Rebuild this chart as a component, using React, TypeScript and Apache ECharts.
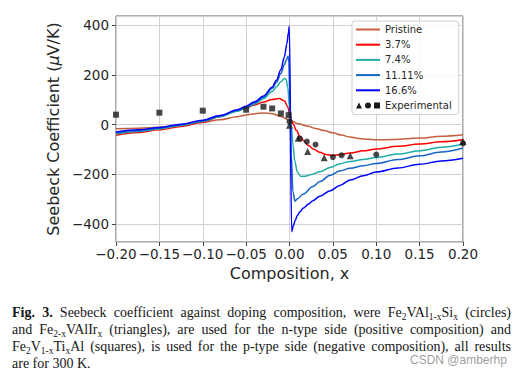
import React, { useEffect, useRef } from 'react';
import * as echarts from 'echarts';

// ---------------- data (composition x, Seebeck µV/K) ----------------
const seriesNames = ['Pristine', '3.7%', '7.4%', '11.11%', '16.6%'];
const seriesColors = ['#c4603f', '#ff0000', '#1fada7', '#1765c4', '#0000ff'];

const pristine: [number, number][] = [
  [-0.2, -16], [-0.175, -14], [-0.15, -10], [-0.125, -2], [-0.1, 9], [-0.08, 20], [-0.06, 32],
  [-0.05, 39], [-0.04, 44], [-0.03, 47], [-0.02, 44], [-0.01, 33], [0, 18], [0.01, 4], [0.02, -5],
  [0.03, -15], [0.04, -24], [0.05, -33], [0.06, -42], [0.07, -50], [0.08, -56], [0.09, -59],
  [0.1, -61], [0.12, -60], [0.15, -54], [0.175, -47], [0.2, -41],
];
const doped37: [number, number][] = [
  [-0.2, -43], [-0.175, -32], [-0.15, -21], [-0.125, -7], [-0.1, 10], [-0.08, 33], [-0.06, 57],
  [-0.05, 67], [-0.04, 79], [-0.03, 91], [-0.02, 101], [-0.012, 105], [-0.006, 96], [-0.002, 72],
  [0.0006, 33], [0.004, 4], [0.008, -23], [0.012, -47], [0.016, -64], [0.022, -84], [0.028, -99],
  [0.035, -111], [0.042, -120], [0.05, -124], [0.058, -120], [0.07, -114], [0.085, -105],
  [0.1, -98], [0.125, -87], [0.15, -78], [0.175, -69], [0.2, -61],
];
const doped74: [number, number][] = [
  [-0.2, -38], [-0.175, -28], [-0.15, -17], [-0.125, -3], [-0.1, 13], [-0.08, 32], [-0.06, 54],
  [-0.05, 67], [-0.04, 83], [-0.03, 104], [-0.02, 133], [-0.015, 152], [-0.01, 172], [-0.006, 185],
  [-0.004, 182], [-0.002, 150], [0, 70], [0.002, 0], [0.004, -80], [0.006, -145], [0.009, -190],
  [0.013, -208], [0.018, -207], [0.025, -200], [0.035, -189], [0.047, -172], [0.058, -157],
  [0.07, -148], [0.085, -140], [0.1, -132], [0.125, -118], [0.15, -105], [0.175, -91], [0.2, -78],
];
const doped1111: [number, number][] = [
  [-0.2, -34], [-0.175, -25], [-0.15, -14], [-0.125, 0], [-0.1, 15], [-0.08, 34], [-0.06, 57],
  [-0.05, 70], [-0.04, 87], [-0.03, 110], [-0.02, 145], [-0.015, 170], [-0.01, 205], [-0.006, 240],
  [-0.003, 265], [-0.0017, 275], [-0.0008, 250], [0.0005, 100], [0.002, -120], [0.004, -270],
  [0.0063, -307], [0.009, -298], [0.016, -278], [0.027, -248], [0.035, -228], [0.047, -203],
  [0.058, -186], [0.07, -175], [0.085, -165], [0.1, -156], [0.125, -140], [0.15, -125],
  [0.175, -110], [0.2, -94],
];
const doped166: [number, number][] = [
  [-0.2, -30], [-0.175, -21], [-0.15, -11], [-0.125, 2], [-0.1, 18], [-0.08, 37], [-0.06, 60],
  [-0.05, 74], [-0.04, 92], [-0.03, 115], [-0.02, 150], [-0.015, 178], [-0.01, 220], [-0.006, 270],
  [-0.003, 325], [-0.0012, 370], [-0.0002, 395], [0.0025, -430], [0.0045, -405], [0.0063, -387],
  [0.009, -365], [0.012, -350], [0.016, -335], [0.022, -318], [0.027, -305], [0.035, -287],
  [0.047, -265], [0.058, -244], [0.07, -222], [0.085, -205], [0.1, -190], [0.125, -174],
  [0.15, -159], [0.175, -146], [0.2, -135],
];

// experimental points
const expSquares: [number, number][] = [
  [-0.2, 40], [-0.15, 48], [-0.1, 56], [-0.05, 60], [-0.03, 72], [-0.02, 65], [-0.01, 45], [-0.001, 38],
];
const expCircles: [number, number][] = [
  [0, 12], [0.012, -56], [0.02, -68], [0.03, -80], [0.05, -130], [0.06, -123], [0.1, -120], [0.2, -75],
];
const expTriangles: [number, number][] = [
  [0, -2], [0.01, -55], [0.021, -108], [0.04, -133], [0.07, -125], [0.2, -68],
];

const xMin = -0.2;
const xMax = 0.2;
const xStep = 0.05;
const yMin = -471;
const yMax = 436;

const captionLines: string[] = [
  '*Fig.* *3.* Seebeck coefficient against doping composition, were Fe_{2}VAl_{1-x}Si_{x} (circles)',
  'and Fe_{2-x}VAlIr_{x} (triangles), are used for the n-type side (positive composition) and',
  'Fe_{2}V_{1-x}Ti_{x}Al (squares), is used for the p-type side (negative composition), all results',
  'are for 300 K.',
];
const watermark = 'CSDN @amberhp';

// ---------------- caption helpers ----------------
type Seg = { t: string; sub: boolean; bold: boolean };
function parseWord(word: string): Seg[] {
  let w = word;
  let bold = false;
  if (w.length > 1 && w.startsWith('*') && w.endsWith('*')) {
    bold = true;
    w = w.slice(1, -1);
  }
  const segs: Seg[] = [];
  const re = /_\{([^}]*)\}/g;
  let last = 0;
  let m: RegExpExecArray | null;
  while ((m = re.exec(w))) {
    if (m.index > last) segs.push({ t: w.slice(last, m.index), sub: false, bold });
    segs.push({ t: m[1], sub: true, bold });
    last = m.index + m[0].length;
  }
  if (last < w.length) segs.push({ t: w.slice(last), sub: false, bold });
  return segs;
}

const CAP_FAMILY = 'Liberation Serif';
const CAP_SIZE = 14;
const SUB_SIZE = 9.5;
const CAP_LEFT = 12;
const CAP_WIDTH = 499;
const CAP_BASE = 317;
const CAP_STEP = 17;

function buildCaption(): any[] {
  const canvas = document.createElement('canvas');
  const ctx = canvas.getContext('2d')!;
  const measure = (s: Seg) => {
    const size = s.sub ? SUB_SIZE : CAP_SIZE;
    ctx.font = `${s.bold ? 'bold ' : ''}${size}px "${CAP_FAMILY}"`;
    return ctx.measureText(s.t).width;
  };
  ctx.font = `${CAP_SIZE}px "${CAP_FAMILY}"`;
  const spaceW = ctx.measureText(' ').width;
  const els: any[] = [];
  captionLines.forEach((line, li) => {
    const words = line.split(' ').map(parseWord);
    const widths = words.map((ws) => ws.reduce((a, s) => a + measure(s), 0));
    const total = widths.reduce((a, b) => a + b, 0);
    const justify = li < captionLines.length - 1 && words.length > 1;
    const gap = justify ? Math.max(1.5, (CAP_WIDTH - total) / (words.length - 1)) : spaceW;
    const baseline = CAP_BASE + li * CAP_STEP;
    let x = CAP_LEFT;
    words.forEach((ws, wi) => {
      ws.forEach((s) => {
        const size = s.sub ? SUB_SIZE : CAP_SIZE;
        const bl = s.sub ? baseline + 3 : baseline;
        els.push({
          type: 'text',
          silent: true,
          x,
          y: bl - 0.3375 * size,
          style: {
            text: s.t,
            fontFamily: CAP_FAMILY,
            fontSize: size,
            fontWeight: s.bold ? 'bold' : 'normal',
            fill: '#161616',
            align: 'left',
            verticalAlign: 'middle',
          },
        });
        x += measure(s);
      });
      if (wi < words.length - 1) x += gap;
    });
  });
  els.push({
    type: 'text',
    silent: true,
    x: 410,
    y: 364 - 0.35 * 12,
    style: {
      text: watermark,
      fontFamily: 'Liberation Sans',
      fontSize: 12,
      fill: 'rgba(140,140,140,0.85)',
      align: 'left',
      verticalAlign: 'middle',
    },
  });
  return els;
}

const expIcon =
  'path://M0,6L6,6L3,0Z M15,3A3,3,0,1,1,9,3A3,3,0,1,1,15,3Z M18,0L24,0L24,6L18,6Z';

const fmtX = (v: number) => {
  if (Math.abs(v) < 1e-9) return '0.00';
  return (v < 0 ? '\u2212' : '') + Math.abs(v).toFixed(2);
};
const fmtY = (v: number) => (v < 0 ? '\u2212' + Math.abs(v) : String(v));

export default function App() {
  const ref = useRef<HTMLDivElement>(null);
  useEffect(() => {
    if (!ref.current) return;
    const chart = echarts.init(ref.current, undefined, { renderer: 'svg' });
    const lineData = [pristine, doped37, doped74, doped1111, doped166];
    const textColor = '#262626';
    const option: any = {
      animation: false,
      backgroundColor: '#ffffff',
      textStyle: { fontFamily: 'DejaVu Sans' },
      grid: {
        left: 116,
        right: 61,
        top: 16,
        bottom: 134,
        show: true,
        borderColor: '#5a5a5a',
        borderWidth: 1,
        backgroundColor: 'transparent',
      },
      legend: {
        left: 352,
        top: 21,
        orient: 'vertical',
        itemWidth: 24,
        itemHeight: 6,
        itemGap: 5.2,
        padding: [3.5, 7, 4, 3],
        backgroundColor: 'rgba(255,255,255,0.85)',
        borderColor: '#d0d0d0',
        borderWidth: 1,
        borderRadius: 3,
        textStyle: { fontFamily: 'DejaVu Sans', fontSize: 10, color: textColor, lineHeight: 10 },
        data: [
          ...seriesNames.map((n) => ({ name: n, itemStyle: { opacity: 0 }, lineStyle: { width: 2 } })),
          { name: 'Experimental', icon: expIcon, itemStyle: { opacity: 1 } },
        ],
      },
      xAxis: {
        type: 'value',
        min: xMin,
        max: xMax,
        interval: xStep,
        name: 'Composition, x',
        nameLocation: 'middle',
        nameGap: 23,
        nameTextStyle: { fontFamily: 'DejaVu Sans', fontSize: 16, color: textColor },
        axisLine: { show: false, onZero: false },
        axisTick: { show: true, inside: false, length: 4, lineStyle: { color: '#444' } },
        axisLabel: {
          formatter: fmtX,
          fontFamily: 'DejaVu Sans',
          fontSize: 13.5,
          color: textColor,
          margin: 5,
          hideOverlap: false,
        },
        splitLine: { show: true, lineStyle: { color: '#d0d0d0', width: 1 } },
      },
      yAxis: {
        type: 'value',
        min: yMin,
        max: yMax,
        name: 'Seebeck Coefficient ({mu|\u03bc}V/K)',
        nameLocation: 'middle',
        nameGap: 52,
        nameTextStyle: {
          fontFamily: 'DejaVu Sans',
          fontSize: 16,
          color: textColor,
          rich: { mu: { fontFamily: 'DejaVu Sans', fontSize: 16, fontStyle: 'italic', color: textColor } },
        },
        axisLine: { show: false, onZero: false },
        axisTick: { show: true, inside: false, length: 4, lineStyle: { color: '#444' } },
        axisLabel: {
          formatter: fmtY,
          fontFamily: 'DejaVu Sans',
          fontSize: 13.5,
          color: textColor,
          margin: 7,
          showMinLabel: false,
          showMaxLabel: false,
        },
        splitLine: { show: true, lineStyle: { color: '#d0d0d0', width: 1 } },
      },
      series: [
        ...lineData.map((d, i) => ({
          name: seriesNames[i],
          type: 'line',
          data: d,
          symbol: 'none',
          smooth: 0.35,
          smoothMonotone: 'x',
          color: seriesColors[i],
          lineStyle: { color: seriesColors[i], width: 1.5 },
          z: 2 + i,
        })),
        {
          name: 'Experimental',
          type: 'scatter',
          data: expTriangles,
          symbol: 'triangle',
          symbolSize: 7,
          itemStyle: { color: '#1a1a1a' },
          z: 10,
        },
        {
          name: 'Experimental',
          type: 'scatter',
          data: expCircles,
          symbol: 'circle',
          symbolSize: 6,
          itemStyle: { color: '#1a1a1a' },
          z: 10,
        },
        {
          name: 'Experimental',
          type: 'scatter',
          data: expSquares,
          symbol: 'rect',
          symbolSize: 6,
          itemStyle: { color: '#1a1a1a' },
          z: 10,
        },
      ],
      graphic: buildCaption(),
    };
    chart.setOption(option);
    return () => chart.dispose();
  }, []);
  return (
    <div
      ref={ref}
      style={{ position: 'absolute', left: 0, top: 0, width: 524, height: 376, background: '#fff' }}
    />
  );
}
